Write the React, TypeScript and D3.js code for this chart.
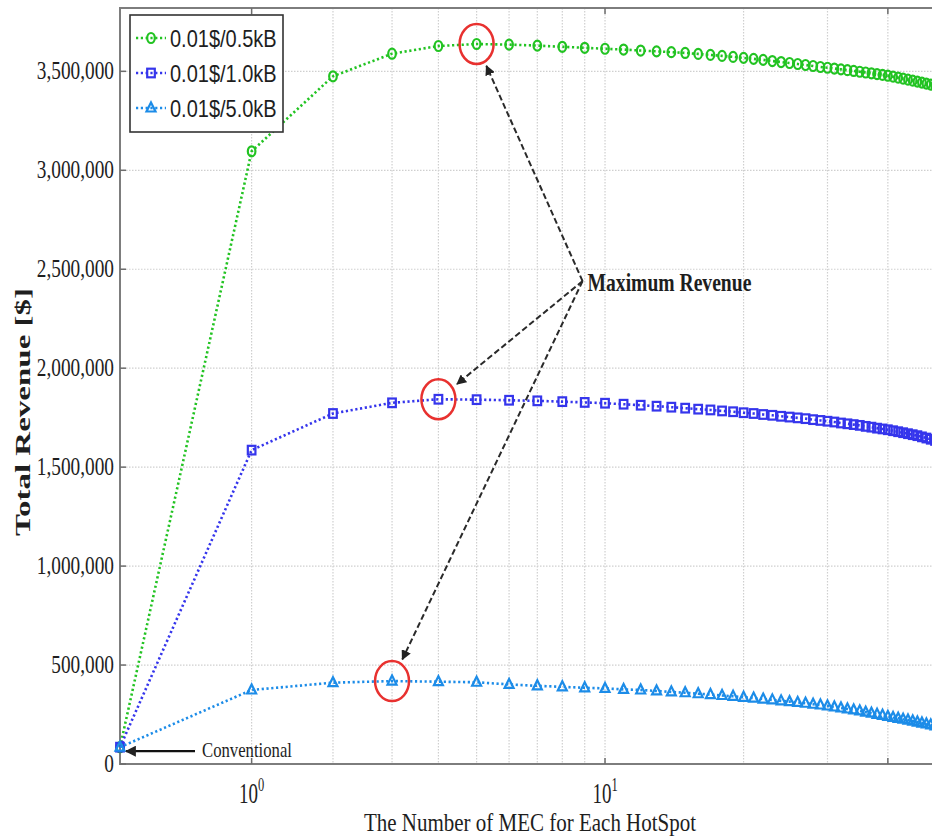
import React, { useEffect, useRef } from "react";
import * as d3 from "d3";

// number of MEC per hotspot (x) and total revenue in $1,000 (y)
const mecCounts = [
  0, 1, 2, 3, 4, 5, 6, 7, 8, 9, 10, 11, 12, 13, 14, 15, 16, 17, 18, 19, 20,
  21, 22, 23, 24, 25, 26, 27, 28, 29, 30, 31, 32, 33, 34, 35, 36, 37, 38, 39,
  40, 41, 42, 43, 44, 45, 46, 47, 48, 49, 50,
];

const revenue05kB = [
  85, 3096, 3475, 3589, 3628, 3638, 3635, 3630, 3624, 3619, 3614, 3610, 3605,
  3601, 3597, 3593, 3588, 3583, 3578, 3573, 3568, 3563, 3558, 3552, 3547, 3542,
  3537, 3532, 3527, 3522, 3518, 3514, 3510, 3506, 3502, 3498, 3494, 3490, 3486,
  3482, 3478, 3473, 3468, 3463, 3458, 3453, 3448, 3443, 3438, 3433, 3428,
];

const revenue10kB = [
  85, 1586, 1771, 1825, 1843, 1841, 1838, 1835, 1831, 1827, 1823, 1818, 1813,
  1808, 1803, 1798, 1793, 1789, 1784, 1780, 1775, 1771, 1766, 1762, 1757, 1753,
  1749, 1745, 1740, 1736, 1732, 1728, 1723, 1719, 1715, 1711, 1706, 1702, 1697,
  1693, 1689, 1684, 1679, 1674, 1669, 1664, 1659, 1653, 1647, 1641, 1635,
];

const revenue50kB = [
  85, 374, 411, 419, 416, 413, 402, 395, 390, 385, 382, 377, 374, 369, 364, 360,
  355, 351, 346, 342, 337, 333, 328, 324, 319, 315, 311, 307, 302, 298, 293, 288,
  283, 278, 273, 268, 262, 257, 251, 246, 240, 235, 231, 226, 222, 217, 212, 207,
  202, 197, 192,
];

const seriesNames = ["0.01$/0.5kB", "0.01$/1.0kB", "0.01$/5.0kB"];
const seriesColors = ["#22c322", "#3535ec", "#1c8ce8"];
const seriesShapes = ["circle", "square", "triangle"];

const yTicks = [0, 500, 1000, 1500, 2000, 2500, 3000, 3500];
const xGridValues = [1, 2, 3, 4, 5, 6, 7, 8, 9, 10, 20, 30, 40, 50, 60];
const xMajorTicks = [1, 10];
const xMajorLabels = ["0", "1"];

// where the "Maximum Revenue" callout meets (data units)
const calloutPoint = { n: 8.9, revenue: 2440 };

const serif = "'Liberation Serif', 'Times New Roman', serif";
const sans = "'Liberation Sans', Arial, sans-serif";

const App: React.FC = () => {
  const svgRef = useRef<SVGSVGElement | null>(null);

  useEffect(() => {
    const width = 932;
    const height = 840;
    const margin = { top: 8, left: 120, bottom: 764 };
    const xConst = 1.2;
    const xMax = 100;
    const decadePx = 500;

    const svg = d3.select(svgRef.current);
    svg.selectAll("*").remove();
    svg.attr("width", width).attr("height", height);

    svg.append("rect").attr("width", width).attr("height", height).attr("fill", "white");

    const x = d3
      .scaleSymlog()
      .constant(xConst)
      .domain([0, xMax])
      .range([margin.left, margin.left + decadePx * Math.log10(1 + xMax / xConst)]);

    const y = d3.scaleLinear().domain([0, 3820]).range([margin.bottom, margin.top]);

    const right = x(xMax);

    // text squeezed like the original (tall glyphs)
    const addText = (
      parent: d3.Selection<any, any, any, any>,
      tx: number,
      ty: number,
      str: string,
      size: number,
      stretch: number,
      opts: { anchor?: string; weight?: string; family?: string } = {}
    ) =>
      parent
        .append("text")
        .attr("transform", `translate(${tx},${ty}) scale(1,${stretch})`)
        .attr("font-family", opts.family || serif)
        .attr("font-size", size)
        .attr("font-weight", opts.weight || "normal")
        .attr("text-anchor", opts.anchor || "start")
        .attr("fill", "#1e1e1e")
        .text(str);

    // Grid
    const grid = svg.append("g");
    grid
      .selectAll("line.hgrid")
      .data(yTicks.slice(1))
      .join("line")
      .attr("x1", margin.left)
      .attr("x2", right)
      .attr("y1", d => y(d))
      .attr("y2", d => y(d))
      .attr("stroke", "#cfcfcf")
      .attr("stroke-width", 1.2)
      .attr("stroke-dasharray", "1.5,1.5");

    grid
      .selectAll("line.vgrid")
      .data(xGridValues)
      .join("line")
      .attr("x1", d => x(d))
      .attr("x2", d => x(d))
      .attr("y1", margin.top)
      .attr("y2", margin.bottom)
      .attr("stroke", "#cfcfcf")
      .attr("stroke-width", 1.2)
      .attr("stroke-dasharray", "1.5,1.5");

    // Frame
    svg
      .append("path")
      .attr("d", `M${right},${margin.top}H${margin.left}V${margin.bottom}H${right}`)
      .attr("fill", "none")
      .attr("stroke", "#7d7d7d")
      .attr("stroke-width", 2);

    // Y ticks + labels
    yTicks.forEach(t => {
      svg
        .append("line")
        .attr("x1", margin.left)
        .attr("x2", margin.left + 6)
        .attr("y1", y(t))
        .attr("y2", y(t))
        .attr("stroke", "#6d6d6d")
        .attr("stroke-width", 1.5);
      addText(svg, margin.left - 6, y(t) + 8, d3.format(",")(t * 1000), 19.3, 1.28, {
        anchor: "end",
      });
    });

    // X ticks + labels
    [...xMajorTicks, 40].forEach(t => {
      svg
        .append("line")
        .attr("x1", x(t))
        .attr("x2", x(t))
        .attr("y1", margin.bottom)
        .attr("y2", margin.bottom - 6)
        .attr("stroke", "#6d6d6d")
        .attr("stroke-width", 1.5);
      svg
        .append("line")
        .attr("x1", x(t))
        .attr("x2", x(t))
        .attr("y1", margin.top)
        .attr("y2", margin.top + 6)
        .attr("stroke", "#6d6d6d")
        .attr("stroke-width", 1.5);
    });

    xMajorTicks.forEach((t, i) => {
      const label = addText(svg, x(t), 803, "", 19, 1.5, { anchor: "middle" });
      label.append("tspan").text("10");
      label.append("tspan").attr("dy", -8).attr("font-size", 12.5).text(xMajorLabels[i]);
    });

    // Axis titles
    addText(svg, 530, 831, "The Number of MEC for Each HotSpot", 21, 1.22, { anchor: "middle" });

    svg
      .append("text")
      .attr("transform", `translate(30,412) rotate(-90) scale(1.5,1)`)
      .attr("font-family", serif)
      .attr("font-size", 22)
      .attr("font-weight", "bold")
      .attr("text-anchor", "middle")
      .attr("fill", "#1e1e1e")
      .text("Total Revenue [$]");

    // Series
    const allSeries = [revenue05kB, revenue10kB, revenue50kB];

    const drawMarker = (
      parent: d3.Selection<any, any, any, any>,
      shape: string,
      cx: number,
      cy: number,
      color: string
    ) => {
      if (shape === "circle") {
        parent
          .append("ellipse")
          .attr("cx", cx)
          .attr("cy", cy)
          .attr("rx", 3.8)
          .attr("ry", 5)
          .attr("fill", "none")
          .attr("stroke", color)
          .attr("stroke-width", 2.2);
      } else if (shape === "square") {
        parent
          .append("rect")
          .attr("x", cx - 3.8)
          .attr("y", cy - 4.3)
          .attr("width", 7.6)
          .attr("height", 8.6)
          .attr("fill", "none")
          .attr("stroke", color)
          .attr("stroke-width", 2.2);
      } else {
        parent
          .append("path")
          .attr("d", `M${cx},${cy - 5.5}L${cx + 4.5},${cy + 3.5}L${cx - 4.5},${cy + 3.5}Z`)
          .attr("fill", "none")
          .attr("stroke", color)
          .attr("stroke-width", 2.2);
      }
    };

    const line = d3
      .line<number>()
      .x((_, i) => x(mecCounts[i]))
      .y(d => y(d));

    allSeries.forEach((values, s) => {
      const g = svg.append("g");
      g.append("path")
        .datum(values)
        .attr("d", line)
        .attr("fill", "none")
        .attr("stroke", seriesColors[s])
        .attr("stroke-width", 2.6)
        .attr("stroke-dasharray", "2.2,2.6");
      values.forEach((v, i) => drawMarker(g, seriesShapes[s], x(mecCounts[i]), y(v), seriesColors[s]));
    });

    // Maximum revenue callouts
    const defs = svg.append("defs");
    defs
      .append("marker")
      .attr("id", "arrowHead")
      .attr("viewBox", "0 0 10 10")
      .attr("refX", 9)
      .attr("refY", 5)
      .attr("markerWidth", 5)
      .attr("markerHeight", 5)
      .attr("orient", "auto")
      .append("path")
      .attr("d", "M0,0L10,5L0,10Z")
      .attr("fill", "#222");

    const cx0 = x(calloutPoint.n);
    const cy0 = y(calloutPoint.revenue);

    allSeries.forEach(values => {
      const iMax = d3.maxIndex(values);
      const px = x(mecCounts[iMax]);
      const py = y(values[iMax]);
      svg
        .append("ellipse")
        .attr("cx", px)
        .attr("cy", py)
        .attr("rx", 17)
        .attr("ry", 20)
        .attr("fill", "none")
        .attr("stroke", "#e8312f")
        .attr("stroke-width", 2.5);

      const dx = cx0 - px;
      const dy = cy0 - py;
      const len = Math.hypot(dx, dy);
      svg
        .append("line")
        .attr("x1", cx0)
        .attr("y1", cy0)
        .attr("x2", px + (dx / len) * 24)
        .attr("y2", py + (dy / len) * 24)
        .attr("stroke", "#2a2a2a")
        .attr("stroke-width", 2)
        .attr("stroke-dasharray", "6,3")
        .attr("marker-end", "url(#arrowHead)");
    });

    addText(svg, cx0 + 5, cy0 + 10, "Maximum Revenue", 19.6, 1.28, { weight: "bold" });

    // Conventional annotation
    const convX = x(mecCounts[0]);
    const convY = y(revenue50kB[0]) + 4;
    svg
      .append("line")
      .attr("x1", convX + 75)
      .attr("y1", convY)
      .attr("x2", convX + 6)
      .attr("y2", convY)
      .attr("stroke", "#111")
      .attr("stroke-width", 2.2)
      .attr("marker-end", "url(#arrowHead)");
    addText(svg, convX + 82, convY + 5.5, "Conventional", 16.7, 1.3);

    // Legend
    const legend = svg.append("g").attr("transform", "translate(130,15)");
    legend
      .append("rect")
      .attr("width", 153)
      .attr("height", 117)
      .attr("fill", "white")
      .attr("stroke", "#333")
      .attr("stroke-width", 1.6);

    seriesNames.forEach((name, i) => {
      const ly = 23 + i * 35;
      legend
        .append("line")
        .attr("x1", 6)
        .attr("x2", 36)
        .attr("y1", ly)
        .attr("y2", ly)
        .attr("stroke", seriesColors[i])
        .attr("stroke-width", 2.6)
        .attr("stroke-dasharray", "2.2,2.6");
      drawMarker(legend, seriesShapes[i], 21, ly, seriesColors[i]);
      addText(legend, 40, ly + 8.5, name, 20, 1.17, { family: sans });
    });
  }, []);

  return <svg ref={svgRef} style={{ position: "absolute", left: 0, top: 0 }}></svg>;
};

export default App;
